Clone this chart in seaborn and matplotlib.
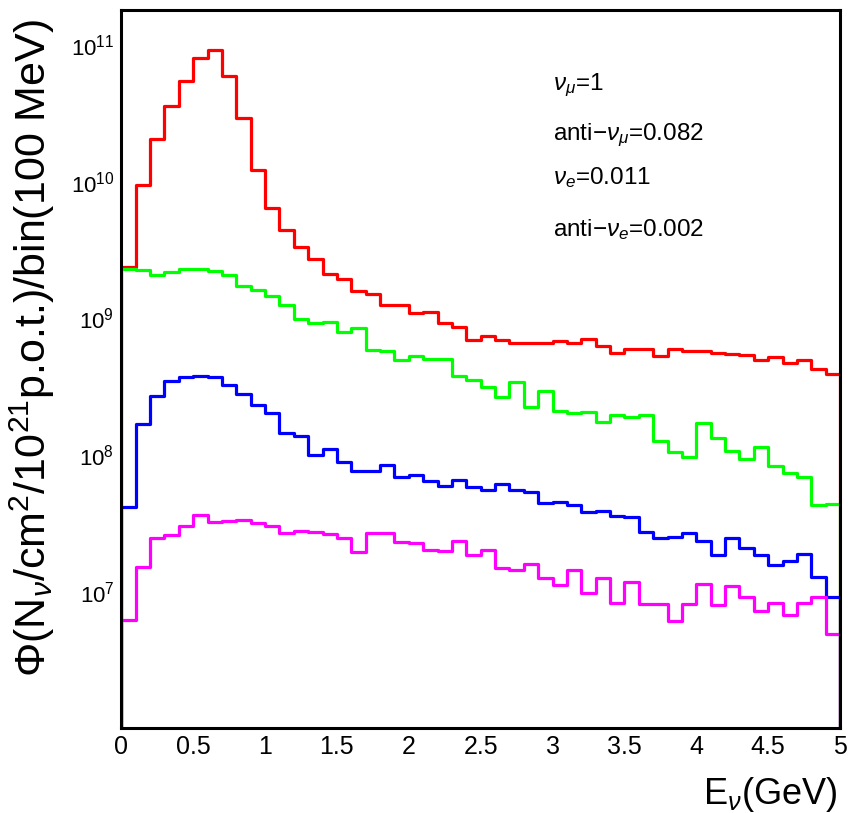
import numpy as np
import matplotlib
matplotlib.use("Agg")
import matplotlib.pyplot as plt
import seaborn as sns
from matplotlib.ticker import MultipleLocator, LogLocator, NullFormatter, FixedLocator

# Energy binning: 50 bins of 100 MeV from 0 to 5 GeV
bin_edges = np.round(np.arange(0, 5.0001, 0.1), 2)

# Flux per bin, N_nu / cm^2 / 1e21 p.o.t.
numu = [2.36e9, 9.5e9, 2.05e10, 3.58e10, 5.4e10, 8.0e10, 9.15e10, 5.9e10, 2.94e10, 1.21e10,
        6.37e9, 4.4e9, 3.3e9, 2.71e9, 2.1e9, 1.94e9, 1.57e9, 1.5e9, 1.24e9, 1.26e9,
        1.09e9, 1.11e9, 9.2e8, 8.7e8, 6.9e8, 7.4e8, 6.9e8, 6.6e8, 6.6e8, 6.6e8,
        6.8e8, 6.6e8, 7.0e8, 6.3e8, 5.6e8, 6.0e8, 5.93e8, 5.3e8, 6.0e8, 5.8e8,
        5.75e8, 5.6e8, 5.5e8, 5.4e8, 4.98e8, 5.2e8, 4.73e8, 4.93e8, 4.24e8, 3.94e8]
anti_numu = [2.29e9, 2.26e9, 2.08e9, 2.17e9, 2.29e9, 2.29e9, 2.23e9, 2.07e9, 1.73e9, 1.61e9,
             1.46e9, 1.24e9, 9.8e8, 9.2e8, 9.45e8, 8.0e8, 8.5e8, 5.9e8, 5.8e8, 4.95e8,
             5.27e8, 5.03e8, 5.03e8, 3.8e8, 3.54e8, 3.13e8, 2.67e8, 3.44e8, 2.25e8, 2.94e8,
             2.1e8, 2.03e8, 2.06e8, 1.75e8, 1.97e8, 1.88e8, 1.96e8, 1.27e8, 1.05e8, 9.7e7,
             1.72e8, 1.33e8, 1.07e8, 9.35e7, 1.15e8, 8.3e7, 7.36e7, 6.88e7, 4.27e7, 4.39e7]
nue = [4.15e7, 1.67e8, 2.72e8, 3.5e8, 3.74e8, 3.8e8, 3.7e8, 3.27e8, 2.77e8, 2.33e8,
       2.02e8, 1.45e8, 1.37e8, 9.98e7, 1.1e8, 8.85e7, 7.6e7, 7.57e7, 8.37e7, 6.9e7,
       7.08e7, 6.43e7, 5.9e7, 6.55e7, 5.82e7, 5.5e7, 6.12e7, 5.5e7, 5.4e7, 4.45e7,
       4.52e7, 4.32e7, 3.82e7, 3.88e7, 3.57e7, 3.53e7, 2.73e7, 2.47e7, 2.51e7, 2.68e7,
       2.33e7, 1.86e7, 2.48e7, 2.09e7, 1.84e7, 1.56e7, 1.68e7, 1.89e7, 1.28e7, 9.2e6]
anti_nue = [6.15e6, 1.51e7, 2.48e7, 2.58e7, 3.03e7, 3.61e7, 3.24e7, 3.28e7, 3.34e7, 3.19e7,
            3.0e7, 2.7e7, 2.78e7, 2.73e7, 2.64e7, 2.45e7, 1.96e7, 2.68e7, 2.68e7, 2.3e7,
            2.26e7, 2.02e7, 1.97e7, 2.34e7, 1.86e7, 2.0e7, 1.49e7, 1.45e7, 1.6e7, 1.26e7,
            1.12e7, 1.45e7, 9.8e6, 1.25e7, 8.3e6, 1.18e7, 8.1e6, 8.1e6, 6.05e6, 8.1e6,
            1.14e7, 8.0e6, 1.1e7, 9.1e6, 7.2e6, 8.3e6, 6.7e6, 8.3e6, 9.1e6, 4.87e6]

series_names = ["numu", "anti_numu", "nue", "anti_nue"]
series_values = [numu, anti_numu, nue, anti_nue]
series_colors = ["#ff0000", "#00ff00", "#0000ff", "#ff00ff"]

ratio_labels = [r"$\nu_{\mu}$=1", r"anti$-\nu_{\mu}$=0.082",
                r"$\nu_{e}$=0.011", r"anti$-\nu_{e}$=0.002"]

y_min, y_max = 1e6, 1.8e11

sns.set_style("white")
plt.rcParams["font.family"] = ["Liberation Sans", "DejaVu Sans"]
plt.rcParams["mathtext.fontset"] = "custom"
plt.rcParams["mathtext.rm"] = "Liberation Sans"
plt.rcParams["mathtext.it"] = "Liberation Sans:italic"
plt.rcParams["mathtext.bf"] = "Liberation Sans:bold"
plt.rcParams["text.color"] = "black"
plt.rcParams["axes.labelcolor"] = "black"

fig = plt.figure(figsize=(8.49, 8.13), dpi=100)
ax = fig.add_axes([121.3 / 849, 1 - 728.3 / 813, (840 - 121.3) / 849, (728.3 - 10) / 813])

# Histogram outlines, closed down to the axis floor at both ends
for name, vals, col in zip(series_names, series_values, series_colors):
    xs = np.concatenate([[bin_edges[0]], bin_edges, [bin_edges[-1]]])
    ys = np.concatenate([[y_min], vals, [vals[-1]], [y_min]])
    sns.lineplot(x=xs, y=ys, ax=ax, estimator=None, sort=False,
                 drawstyle="steps-post", color=col, linewidth=2.3)

ax.set_yscale("log")
ax.set_xlim(0, 5)
ax.set_ylim(y_min, y_max)

ax.xaxis.set_minor_locator(MultipleLocator(0.1))
ax.set_xticks([0, 0.5, 1, 1.5, 2, 2.5, 3, 3.5, 4, 4.5, 5])
ax.set_xticklabels(["0", "0.5", "1", "1.5", "2", "2.5", "3", "3.5", "4", "4.5", "5"])

ax.yaxis.set_major_locator(FixedLocator([1e7, 1e8, 1e9, 1e10, 1e11]))
ax.yaxis.set_minor_locator(LogLocator(base=10, subs=np.arange(2, 10)))
ax.yaxis.set_minor_formatter(NullFormatter())

ax.tick_params(axis="both", which="major", direction="in", length=11, width=0.9,
               color="#444444", labelcolor="black")
ax.tick_params(axis="x", which="major", labelsize=18, pad=5)
ax.tick_params(axis="y", which="major", labelsize=16, pad=5)
ax.tick_params(axis="both", which="minor", direction="in", length=5.5, width=0.9,
               color="#444444")
ax.tick_params(top=False, right=False)

for sp in ax.spines.values():
    sp.set_color("black")
    sp.set_linewidth(2.2)
    sp.set_visible(True)

ax.set_xlabel(r"E$_{\nu}$(GeV)", fontsize=26, loc="right")
ax.set_ylabel(r"$\Phi$(N$_{\nu}$/cm$^{2}$/10$^{21}$p.o.t.)/bin(100 MeV)", fontsize=31)
ax.yaxis.set_label_coords(-0.09, 0.53)
ax.xaxis.set_label_coords(0.996, -0.065)

text_y = [0.8956, 0.8260, 0.7661, 0.6937]
for lab, ty in zip(ratio_labels, text_y):
    ax.text(0.601, ty, lab, transform=ax.transAxes, fontsize=17.5, va="center", ha="left")

fig.savefig("out.png", dpi=100)
